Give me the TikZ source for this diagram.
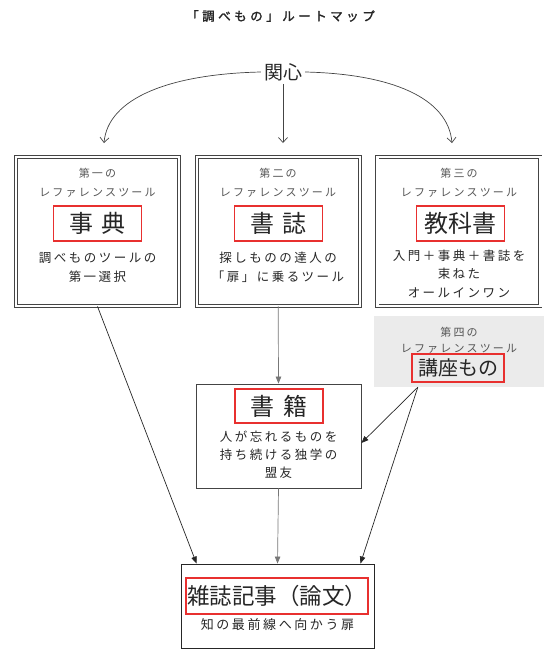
\documentclass[tikz,border=0pt]{standalone}
\usepackage{fontspec}
\setmainfont{Noto Sans CJK JP}
\newfontfamily\jpwide[LetterSpace=20]{Noto Sans CJK JP}
\newfontfamily\jptitle[LetterSpace=28,FakeBold=2]{Noto Sans CJK JP}
\usetikzlibrary{arrows.meta,positioning}
\definecolor{ink}{HTML}{262626}
\definecolor{muted}{HTML}{555555}
\definecolor{frame}{HTML}{444444}
\definecolor{hilite}{HTML}{E8302F}
\definecolor{panel}{HTML}{EBEBEB}
\definecolor{link}{HTML}{777777}

\tikzset{
  toolframe/.style={draw=frame,double=white,double distance=2.2pt,line width=0.9pt,
    minimum width=163pt,minimum height=149pt,inner sep=0pt},
  kicker/.style={font=\jpwide\fontsize{11}{19}\selectfont,text=muted,align=center,inner sep=0pt},
  toolname/.style={draw=hilite,line width=1.4pt,minimum width=88pt,minimum height=35pt,
    inner sep=2pt,font=\fontsize{24}{24}\selectfont,text=ink},
  blurb/.style={font=\jpwide\fontsize{12.5}{19}\selectfont,text=ink,align=center,inner sep=0pt},
  branch/.style={-{Straight Barb[length=5pt,width=9pt]},line width=0.7pt,draw=frame},
  flow/.style={-{Triangle[length=7pt,width=5.5pt]},line width=0.7pt,draw=ink},
}

\begin{document}
\begin{tikzpicture}[x=1pt,y=-1pt]
\useasboundingbox (0,0) rectangle (557,662);

% title and origin
\node[font=\jptitle\fontsize{12.5}{14}\selectfont,text=ink] (title) at (280.5,16) {「調べもの」ルートマップ};
\node[font=\fontsize{19}{19}\selectfont,text=ink,inner sep=3pt] (interest) at (283,72) {関心};

% three reference tools
\node[toolframe] (jiten) at (97.5,231.5) {};
\node[toolframe,right=16.8pt of jiten] (shoshi) {};
\node[toolframe,right=16.8pt of shoshi] (kyokasho) {};

\node[kicker] (k1) at (97.5,182.5) {第一の\\レファレンスツール};
\node[toolname] (n1) at (97.5,223.5) {事\hspace{0.35em}典};
\node[blurb] (d1) at (97.5,267.5) {調べものツールの\\第一選択};

\node[kicker] (k2) at (278,182.5) {第二の\\レファレンスツール};
\node[toolname] (n2) at (278.5,223.5) {書\hspace{0.35em}誌};
\node[blurb] (d2) at (278,267.5) {探しものの達人の\\「扉」に乗るツール};

\node[kicker] (k3) at (459,182.5) {第三の\\レファレンスツール};
\node[toolname] (n3) at (460.5,223.5) {教科書};
\node[blurb,font=\jpwide\fontsize{12.5}{18.5}\selectfont] (d3) at (459,273.5) {入門＋事典＋書誌を\\束ねた\\オールインワン};

% fourth tool on a grey panel
\node[fill=panel,minimum width=170pt,minimum height=71pt,inner sep=0pt] (koza) at (459,351.5) {};
\node[kicker,font=\jpwide\fontsize{11}{16}\selectfont] (k4) at (459,340) {第四の\\レファレンスツール};
\node[toolname,minimum width=92pt,minimum height=28pt,inner sep=1pt,font=\fontsize{20}{20}\selectfont] (n4) at (458,368) {講座もの};

% books and papers
\node[draw=frame,line width=0.8pt,minimum width=165pt,minimum height=104pt] (book) at (278.5,436) {};
\node[toolname,minimum height=34pt] (n5) at (279,406) {書\hspace{0.35em}籍};
\node[blurb,font=\jpwide\fontsize{12.5}{18}\selectfont] (d5) at (278.5,455) {人が忘れるものを\\持ち続ける独学の\\盟友};

\node[draw=ink,line width=0.9pt,minimum width=193pt,minimum height=84pt] (paper) at (277.5,606) {};
\node[toolname,minimum width=182pt,minimum height=36pt,inner sep=1pt,font=\fontsize{22.5}{22.5}\selectfont] (n6) at (277,596) {雑誌記事（論文）};
\node[blurb,font=\jpwide\fontsize{13}{19}\selectfont] (d6) at (277.5,625) {知の最前線へ向かう扉};

% branches from the origin
\coordinate (t1) at (104,143);
\coordinate (t2) at (283,143);
\coordinate (t3) at (452,143);
\draw[branch] (interest.west) .. controls (170,74) and (108,98) .. (t1);
\draw[branch] (interest.south) -- (t2);
\draw[branch] (interest.east) .. controls (392,74) and (448,98) .. (t3);

% routes to the paper
\coordinate (fork) at ([xshift=44pt]koza.south west);
\draw[flow] (jiten.south) -- ([xshift=16pt]paper.north west);
\draw[flow,draw=link] (shoshi.south) -- (book.north);
\draw[flow,draw=link] (book.south) -- (paper.north);
\draw[flow] (fork) -- ([yshift=-7pt]book.east);
\draw[flow] (fork) -- ([xshift=-14pt]paper.north east);
\end{tikzpicture}
\end{document}
